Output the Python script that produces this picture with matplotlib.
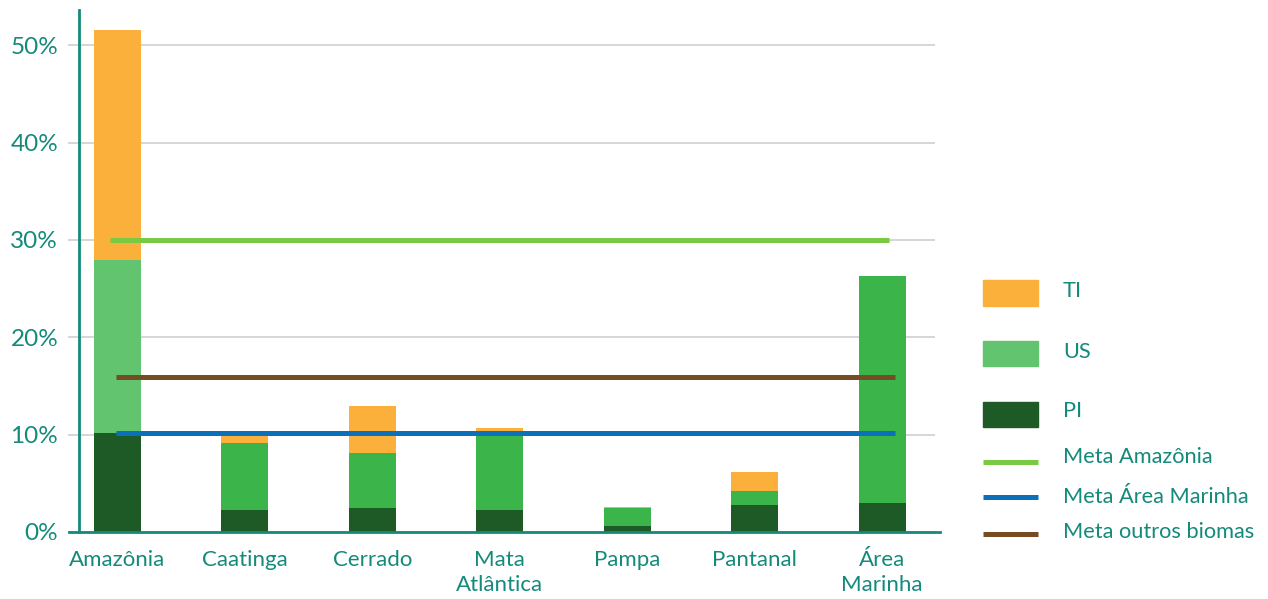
import matplotlib
matplotlib.use("Agg")
import matplotlib.pyplot as plt
from matplotlib.patches import Rectangle
from matplotlib.lines import Line2D
import numpy as np

categories = ["Amazônia", "Caatinga", "Cerrado", "Mata\nAtlântica", "Pampa", "Pantanal", "Área\nMarinha"]
pi_vals = [10.2, 2.3, 2.5, 2.3, 0.6, 2.8, 3.0]
us_vals = [17.7, 6.8, 5.6, 7.6, 1.9, 1.4, 23.3]
ti_vals = [23.7, 1.0, 4.8, 0.8, 0.1, 2.0, 0.0]
meta_amazonia = 30.0
meta_marinha = 10.2
meta_outros = 15.9
yticks = [0, 10, 20, 30, 40, 50]
ytick_labels = ["0%", "10%", "20%", "30%", "40%", "50%"]

TEAL = "#138A7A"
C_TI = "#FBB03B"
C_US_AMZ = "#62C46E"
C_US = "#3BB54A"
C_PI = "#1E5A25"
C_MA = "#7AC943"
C_MM = "#0A70BA"
C_MO = "#754C24"
FS_X = 16
FS_Y = 17.5
FS_L = 15.7

plt.rcParams['font.family'] = ['Lato', 'DejaVu Sans']

fig = plt.figure(figsize=(12.68, 5.99), dpi=100)
ax = fig.add_axes([0.0623, 0.1119, 0.737 - 0.0623, 0.983 - 0.1119])

x = np.arange(len(categories))
w = 0.37
us_colors = [C_US_AMZ] + [C_US] * (len(categories) - 1)
pi = np.array(pi_vals)
us = np.array(us_vals)
ti = np.array(ti_vals)
ax.bar(x, pi, w, color=C_PI, zorder=2)
ax.bar(x, us, w, bottom=pi, color=us_colors, zorder=2)
ax.bar(x, ti, w, bottom=pi + us, color=C_TI, zorder=2)

lw = 3.6
ax.hlines(meta_amazonia, -0.06, 6.05, color=C_MA, lw=lw, zorder=3)
ax.hlines(meta_outros, -0.01, 6.1, color=C_MO, lw=lw, zorder=3)
ax.hlines(meta_marinha, -0.01, 6.1, color=C_MM, lw=lw, zorder=3)

ax.set_xlim(-0.30, 6.41)
ax.set_ylim(0, 53.6)
ax.set_yticks(yticks)
ax.set_yticklabels(ytick_labels)
ax.yaxis.grid(True, color="#D0D0D0", lw=1.2, zorder=0)
ax.tick_params(axis='y', length=8, color="#D0D0D0", width=1.2, pad=7,
               labelsize=FS_Y, labelcolor=TEAL)
ax.set_xticks(x)
ax.set_xticklabels(categories, linespacing=1.3)
ax.tick_params(axis='x', length=0, pad=13, labelsize=FS_X, labelcolor=TEAL)
for s in ["top", "right"]:
    ax.spines[s].set_visible(False)
for s in ["left", "bottom"]:
    ax.spines[s].set_color(TEAL)
    ax.spines[s].set_linewidth(2)
ax.spines["bottom"].set_bounds(-0.38, 6.45)

# Legend (manual, figure pixel coordinates)
W, H = 1268, 599
def fx(px):
    return px / W
def fy(py):
    return 1 - py / H

patches = [("TI", C_TI, 293, 291), ("US", C_US_AMZ, 353, 352), ("PI", C_PI, 414, 411)]
for lab, col, yc, ty in patches:
    fig.add_artist(Rectangle((fx(983), fy(yc + 12.5)), 55 / W, 25 / H,
                             transform=fig.transFigure, color=col))
    fig.text(fx(1063), fy(ty), lab, color=TEAL, fontsize=FS_L, va="center")
lines = [("Meta Amazônia", C_MA, 462, 457), ("Meta Área Marinha", C_MM, 497, 497),
         ("Meta outros biomas", C_MO, 534, 532)]
for lab, col, yc, ty in lines:
    fig.add_artist(Line2D([fx(983), fx(1038)], [fy(yc), fy(yc)],
                          transform=fig.transFigure, color=col, lw=3.6,
                          solid_capstyle="butt"))
    fig.text(fx(1063), fy(ty), lab, color=TEAL, fontsize=FS_L, va="center")

fig.savefig("out.png", dpi=100)
